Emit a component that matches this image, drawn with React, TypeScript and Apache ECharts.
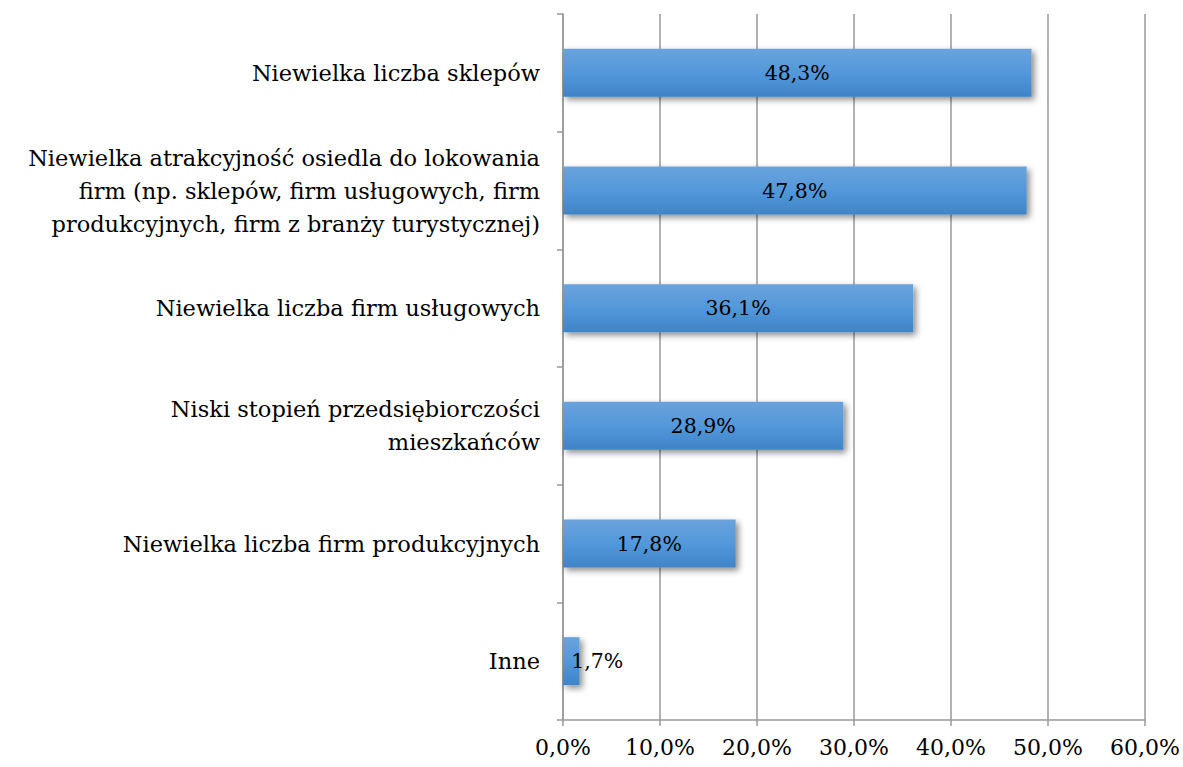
import React, { useEffect, useRef } from "react";
import * as echarts from "echarts";

const categories = [
  "Niewielka liczba sklepów",
  "Niewielka atrakcyjność osiedla do lokowania\nfirm (np. sklepów, firm usługowych, firm\nprodukcyjnych, firm z branży turystycznej)",
  "Niewielka liczba firm usługowych",
  "Niski stopień przedsiębiorczości\nmieszkańców",
  "Niewielka liczba firm produkcyjnych",
  "Inne",
];
const values = [48.3, 47.8, 36.1, 28.9, 17.8, 1.7];
const xTicks = { min: 0, max: 60, interval: 10 };

const FONT = "DejaVu Serif";

export default function App() {
  const ref = useRef<HTMLDivElement>(null);
  useEffect(() => {
    if (!ref.current) return;
    const chart = echarts.init(ref.current, null, { renderer: "svg" });
    const fmt = (v: number) => v.toFixed(1).replace(".", ",") + "%";
    chart.setOption({
      animation: false,
      backgroundColor: "#ffffff",
      textStyle: { fontFamily: FONT },
      grid: { left: 563, right: 38, top: 14, bottom: 47, containLabel: false },
      xAxis: {
        type: "value",
        min: xTicks.min,
        max: xTicks.max,
        interval: xTicks.interval,
        axisLine: { show: true, lineStyle: { color: "#999999", width: 1.5 } },
        axisTick: { show: true, length: 6, lineStyle: { color: "#999999", width: 1.5 } },
        splitLine: { show: true, lineStyle: { color: "#999999", width: 1.5 } },
        axisLabel: {
          formatter: (v: number) => fmt(v),
          color: "#000000",
          fontFamily: FONT,
          fontSize: 22,
          margin: 16,
        },
      },
      yAxis: {
        type: "category",
        inverse: true,
        data: categories,
        axisLine: { show: true, lineStyle: { color: "#999999", width: 1.5 } },
        axisTick: { show: true, length: 6, lineStyle: { color: "#999999", width: 1.5 } },
        axisLabel: {
          color: "#000000",
          fontFamily: FONT,
          fontSize: 22.5,
          lineHeight: 33,
          margin: 23,
          align: "right",
        },
      },
      series: [
        {
          type: "bar",
          data: values.map((v, i) =>
            i === values.length - 1
              ? { value: v, label: { offset: [26, 0] } }
              : { value: v }
          ),
          barWidth: 48,
          itemStyle: {
            color: new echarts.graphic.LinearGradient(0, 0, 0, 1, [
              { offset: 0, color: "#6aa3dc" },
              { offset: 0.5, color: "#5298da" },
              { offset: 1, color: "#3f84c6" },
            ]),
            shadowColor: "rgba(0,0,0,0.45)",
            shadowBlur: 6,
            shadowOffsetX: 3,
            shadowOffsetY: 3,
          },
          label: {
            show: true,
            position: "inside",
            formatter: (p: any) => fmt(p.value),
            color: "#000000",
            fontFamily: FONT,
            fontSize: 20.5,
          },
        },
      ],
    });
    return () => chart.dispose();
  }, []);
  return (
    <div
      ref={ref}
      style={{ position: "absolute", left: 0, top: 0, width: 1183, height: 767 }}
    />
  );
}
